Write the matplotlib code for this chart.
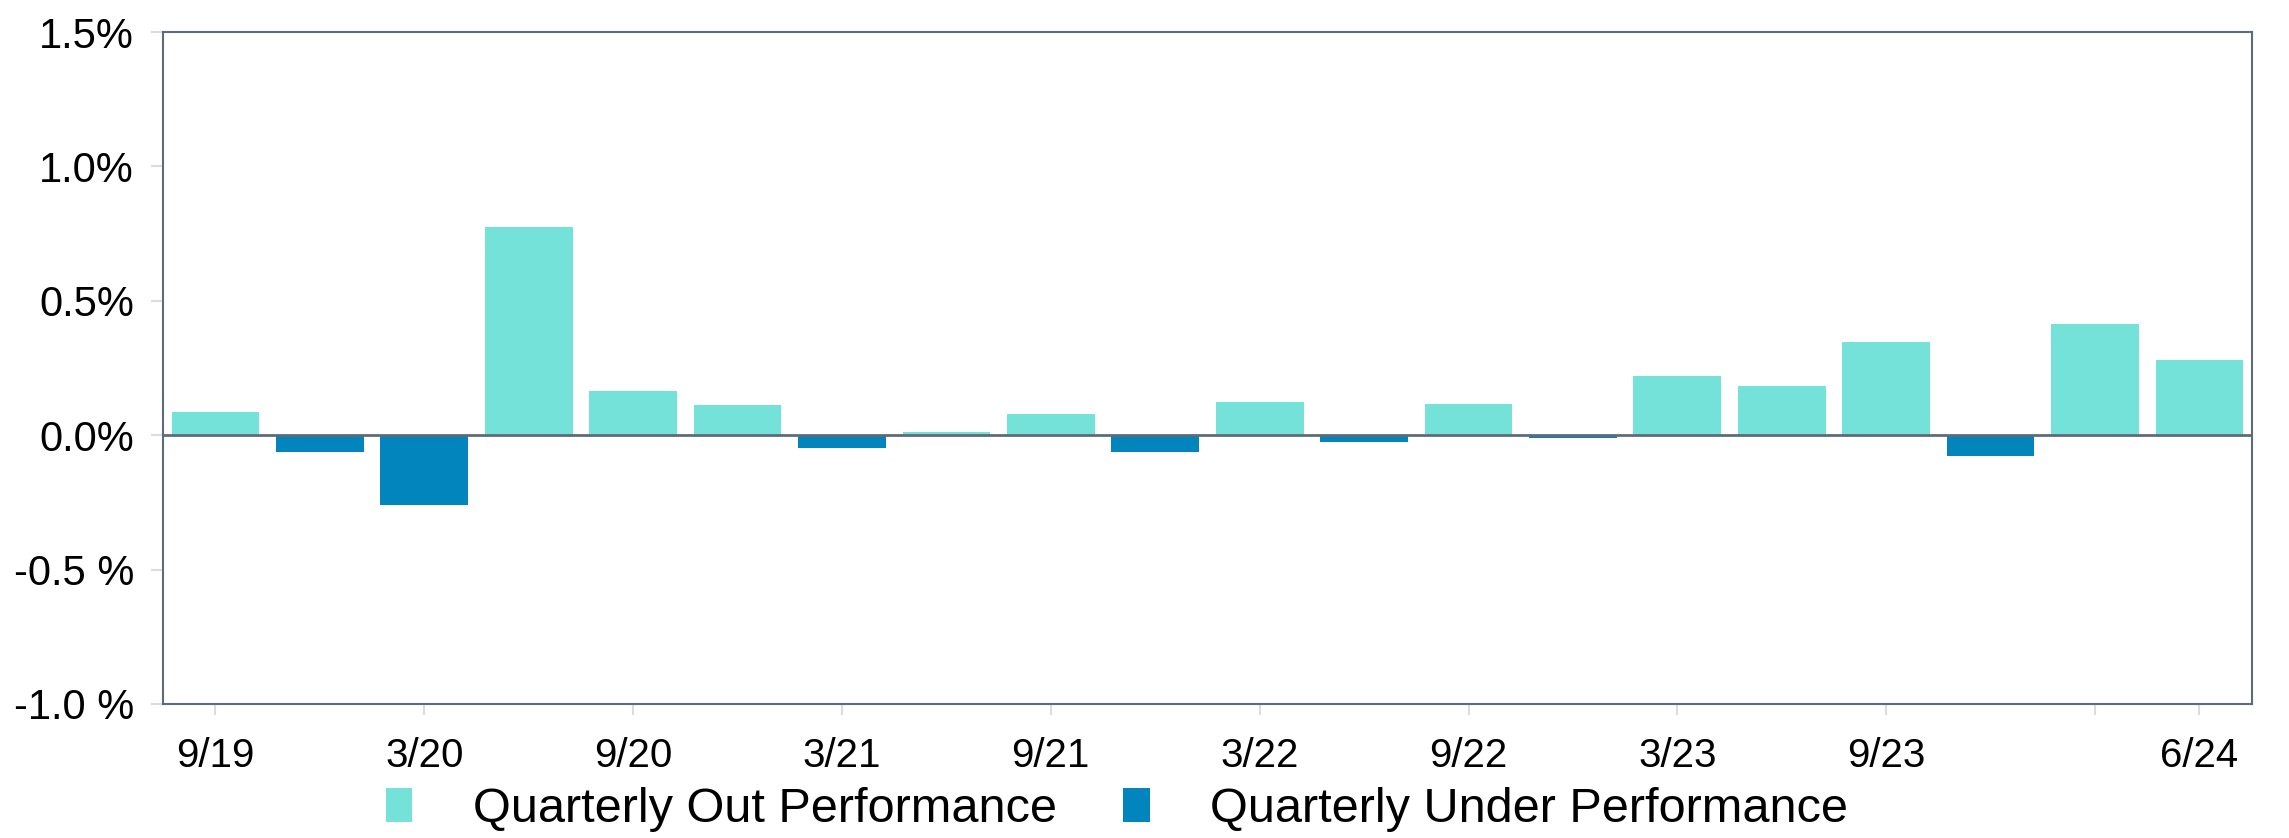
import numpy as np
import matplotlib
matplotlib.use("Agg")
import matplotlib.pyplot as plt

# quarterly relative performance (%)
quarters = ["9/19", "12/19", "3/20", "6/20", "9/20", "12/20", "3/21", "6/21", "9/21", "12/21",
            "3/22", "6/22", "9/22", "12/22", "3/23", "6/23", "9/23", "12/23", "3/24", "6/24"]
values = [0.088, -0.061, -0.261, 0.775, 0.163, 0.111, -0.046, 0.012, 0.080, -0.062,
          0.124, -0.025, 0.117, -0.010, 0.221, 0.184, 0.348, -0.077, 0.415, 0.281]

tick_pos = [0, 2, 4, 6, 8, 10, 12, 14, 16, 18, 19]
tick_labels = ["9/19", "3/20", "9/20", "3/21", "9/21", "3/22", "9/22", "3/23", "9/23", "", "6/24"]
y_ticks = [-1.0, -0.5, 0.0, 0.5, 1.0, 1.5]
y_labels = ["-1.0 %", "-0.5 %", "0.0%", "0.5%", "1.0%", "1.5%"]

out_color = "#75E2D9"
under_color = "#0284BD"
frame_color = "#5E6C7A"

plt.rcParams["font.family"] = ["Liberation Sans", "DejaVu Sans"]

fig, ax = plt.subplots(figsize=(22.89, 8.38), dpi=100)
fig.subplots_adjust(left=0.0713, right=0.9837, top=0.9618, bottom=0.16)

x = np.arange(len(values))
v = np.array(values)
pos = v >= 0

ax.bar(x[pos], v[pos], width=0.84, color=out_color, label="Quarterly Out Performance", zorder=2)
ax.bar(x[~pos], v[~pos], width=0.84, color=under_color, label="Quarterly Under Performance", zorder=2)
ax.axhline(0, color=frame_color, lw=2, zorder=3)

ax.set_xlim(-0.5, 19.5)
ax.set_ylim(-1.0, 1.5)
ax.set_yticks(y_ticks)
ax.set_yticklabels(y_labels, fontsize=30)
ax.set_xticks(tick_pos)
ax.set_xticklabels(tick_labels, fontsize=29)

ax.tick_params(axis="y", length=9, width=1.5, color="#DCDCDC", pad=12)
ax.tick_params(axis="x", length=8, width=1.5, color="#DCDCDC", pad=16)

for s in ax.spines.values():
    s.set_color(frame_color)
    s.set_linewidth(1.5)

fig.legend(loc="center", bbox_to_anchor=(0.488, 0.034), ncol=2, frameon=False,
           fontsize=35, handlelength=0.55, handleheight=0.68,
           handletextpad=1.25, columnspacing=1.35, borderpad=0)

fig.savefig("out.png", dpi=100)
